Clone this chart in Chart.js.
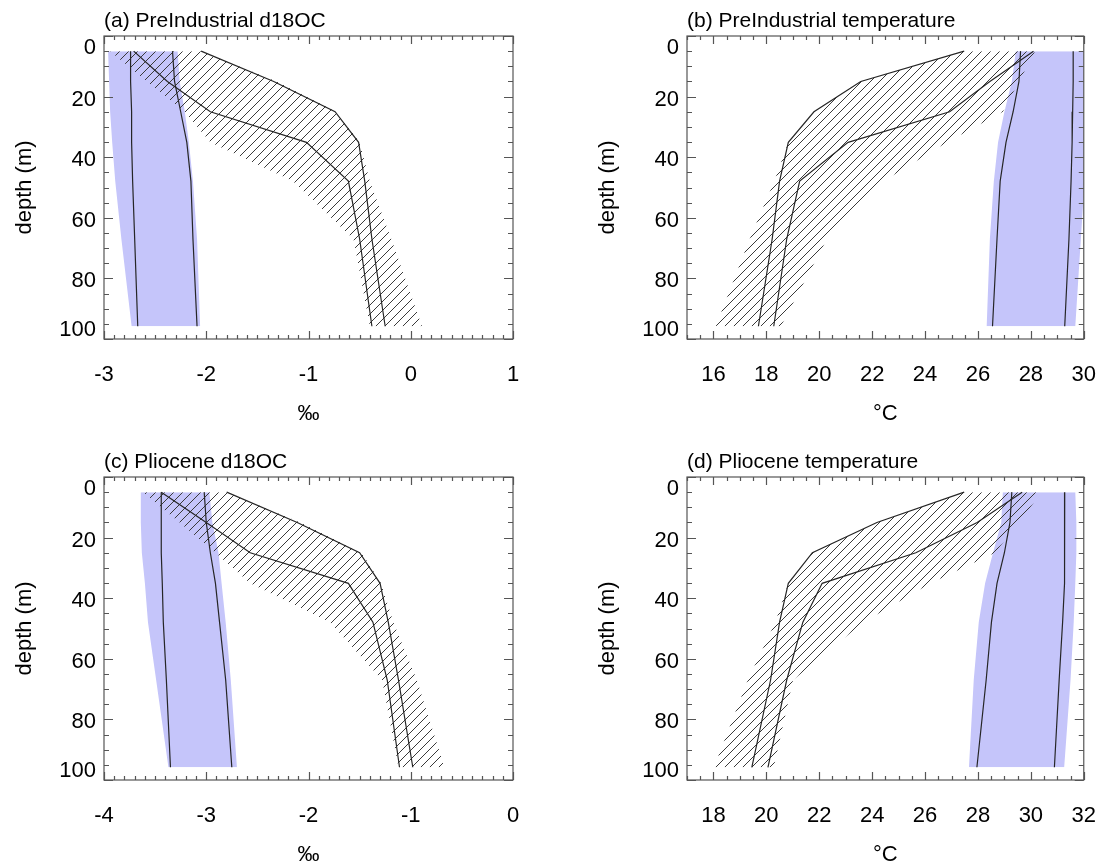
<!DOCTYPE html>
<html>
<head>
<meta charset="utf-8">
<script src="https://cdn.jsdelivr.net/npm/chart.js@4.4.0/dist/chart.umd.min.js"></script>
<style>
  body { margin: 0; background: #fff; width: 1119px; height: 863px; position: relative; overflow: hidden; }
  canvas { position: absolute; }
</style>
</head>
<body>
<canvas id="pa" width="560" height="440" style="left:0;top:0"></canvas>
<canvas id="pb" width="536" height="440" style="left:583px;top:0"></canvas>
<canvas id="pc" width="560" height="440" style="left:0;top:441px"></canvas>
<canvas id="pd" width="536" height="440" style="left:583px;top:441px"></canvas>
<script>
const FONT = "'Liberation Sans', Arial, Helvetica, sans-serif";

// model depth levels (m)
const depths = [5, 15, 25, 35.1, 47.9, 67, 95.8];
const depthLabels = [0, 20, 40, 60, 80, 100];

// (a) PreIndustrial d18OC
const aTicks = [-3, -2, -1, 0, 1];
const aBlueLo = [-2.96, -2.95, -2.94, -2.92, -2.89, -2.83, -2.73];
const aBlueHi = [-2.28, -2.26, -2.21, -2.17, -2.13, -2.09, -2.06];
const aBlue1 = [-2.74, -2.74, -2.73, -2.73, -2.72, -2.70, -2.67];
const aBlue2 = [-2.33, -2.31, -2.25, -2.19, -2.15, -2.13, -2.09];
const aHatchLo = [-2.94, -2.58, -2.21, -1.96, -1.15, -0.56, -0.40];
const aHatchHi = [-2.05, -1.31, -0.73, -0.50, -0.40, -0.19, 0.11];
const aHatch1 = [-2.71, -2.38, -1.96, -1.02, -0.61, -0.50, -0.38];
const aHatch2 = [-2.05, -1.34, -0.74, -0.51, -0.45, -0.38, -0.25];

// (b) PreIndustrial temperature
const bTicks = [16, 18, 20, 22, 24, 26, 28, 30];
const bBlueLo = [27.43, 27.28, 27.00, 26.76, 26.60, 26.45, 26.33];
const bBlueHi = [30.17, 30.17, 30.15, 30.12, 30.03, 29.89, 29.68];
const bBlue1 = [27.61, 27.55, 27.33, 27.06, 26.84, 26.72, 26.55];
const bBlue2 = [29.60, 29.60, 29.58, 29.56, 29.52, 29.44, 29.28];
const bHatchLo = [25.48, 21.57, 19.80, 18.83, 18.30, 17.37, 16.09];
const bHatchHi = [28.16, 27.55, 26.94, 24.83, 22.42, 20.29, 18.55];
const bHatch1 = [25.48, 21.57, 19.80, 18.83, 18.50, 18.22, 17.70];
const bHatch2 = [28.10, 26.45, 24.93, 21.09, 19.26, 18.77, 18.28];

// (c) Pliocene d18OC
const cTicks = [-4, -3, -2, -1, 0];
const cBlueLo = [-3.64, -3.64, -3.63, -3.60, -3.57, -3.49, -3.37];
const cBlueHi = [-2.97, -2.94, -2.88, -2.85, -2.81, -2.76, -2.70];
const cBlue1 = [-3.44, -3.44, -3.44, -3.43, -3.42, -3.39, -3.35];
const cBlue2 = [-3.02, -3.00, -2.96, -2.91, -2.87, -2.81, -2.75];
const cHatchLo = [-3.62, -3.26, -2.91, -2.57, -1.79, -1.28, -1.12];
const cHatchHi = [-2.80, -2.08, -1.48, -1.29, -1.17, -0.94, -0.67];
const cHatch1 = [-3.44, -3.00, -2.57, -1.61, -1.37, -1.23, -1.11];
const cHatch2 = [-2.80, -2.11, -1.50, -1.30, -1.22, -1.12, -0.98];

// (d) Pliocene temperature
const dTicks = [18, 20, 22, 24, 26, 28, 30, 32];
const dBlueLo = [28.94, 28.88, 28.57, 28.27, 28.03, 27.84, 27.66];
const dBlueHi = [31.68, 31.72, 31.72, 31.68, 31.62, 31.50, 31.26];
const dBlue1 = [29.28, 29.21, 29.00, 28.72, 28.51, 28.31, 27.96];
const dBlue2 = [31.28, 31.28, 31.28, 31.26, 31.20, 31.07, 30.89];
const dHatchLo = [27.48, 24.18, 21.74, 20.83, 20.34, 19.30, 18.02];
const dHatchHi = [30.40, 29.55, 28.64, 26.21, 23.67, 21.01, 20.28];
const dHatch1 = [27.48, 24.18, 21.74, 20.83, 20.50, 20.16, 19.45];
const dHatch2 = [29.67, 27.97, 25.65, 22.11, 21.38, 20.77, 20.06];

const BLUE = '#c5c5fa';

function makeHatch() {
  const c = document.createElement('canvas');
  c.width = 9;
  c.height = 9;
  const g = c.getContext('2d');
  g.strokeStyle = '#3a3a3a';
  g.lineWidth = 1;
  g.beginPath();
  g.moveTo(-1, 10);
  g.lineTo(10, -1);
  g.stroke();
  return g.createPattern(c, 'repeat');
}
const HATCH = makeHatch();

function pts(vals) {
  return depths.map((d, i) => ({ x: vals[i], y: d }));
}

function band(lo, hi, color, order) {
  return [
    { data: pts(lo), fill: '+1', backgroundColor: color, borderColor: 'transparent', borderWidth: 0, pointRadius: 0, order: order },
    { data: pts(hi), fill: false, borderColor: 'transparent', borderWidth: 0, pointRadius: 0, order: order }
  ];
}

function profile(vals) {
  return { data: pts(vals), fill: false, borderColor: '#262626', borderWidth: 1.2, pointRadius: 0, order: 1 };
}

// box, inward ticks on all four sides, depth labels
const frame = {
  id: 'frame',
  afterDatasetsDraw(chart, args, o) {
    const { ctx, chartArea: a } = chart;
    const x = chart.scales.x;
    const y = chart.scales.y;
    ctx.save();
    ctx.strokeStyle = '#555';
    ctx.lineWidth = 1.2;
    ctx.strokeRect(a.left, a.top, a.right - a.left, a.bottom - a.top);
    ctx.beginPath();
    const nx = Math.round((x.max - x.min) / o.xMinor);
    for (let i = 0; i <= nx; i++) {
      const v = x.min + i * o.xMinor;
      const major = Math.abs(v / o.xMajor - Math.round(v / o.xMajor)) < 1e-6;
      const len = major ? 8 : 4;
      const px = Math.round(x.getPixelForValue(v)) + 0.5;
      ctx.moveTo(px, a.bottom);
      ctx.lineTo(px, a.bottom - len);
      ctx.moveTo(px, a.top);
      ctx.lineTo(px, a.top + len);
    }
    const ny = Math.round((y.max - y.min) / 5);
    for (let i = 0; i <= ny; i++) {
      const v = y.min + i * 5;
      const len = v % 20 === 0 ? 9 : 5;
      const py = Math.round(y.getPixelForValue(v)) + 0.5;
      ctx.moveTo(a.left, py);
      ctx.lineTo(a.left + len, py);
      ctx.moveTo(a.right, py);
      ctx.lineTo(a.right - len, py);
    }
    ctx.stroke();

    ctx.fillStyle = '#000';
    ctx.font = '22px ' + FONT;
    ctx.textAlign = 'right';
    ctx.textBaseline = 'middle';
    depthLabels.forEach(v => {
      let py = y.getPixelForValue(v) + 3;
      py = Math.min(Math.max(py, a.top + 12), a.bottom - 9);
      ctx.fillText(String(v), a.left - 8, py);
    });
    ctx.restore();
  }
};

function makePanel(id, p) {
  new Chart(document.getElementById(id), {
    type: 'line',
    data: {
      datasets: [
        ...band(p.blueLo, p.blueHi, BLUE, 3),
        ...band(p.hatchLo, p.hatchHi, HATCH, 2),
        profile(p.blue1),
        profile(p.blue2),
        profile(p.hatch1),
        profile(p.hatch2)
      ]
    },
    options: {
      responsive: false,
      animation: false,
      events: [],
      indexAxis: 'y',
      layout: { padding: { left: 0, right: p.padRight, top: 0, bottom: 0 } },
      plugins: {
        legend: { display: false },
        tooltip: { enabled: false },
        title: {
          display: true,
          text: p.title,
          align: 'start',
          fullSize: false,
          color: '#000',
          font: { family: FONT, size: 21, weight: 'normal' },
          padding: { top: 9, bottom: 1.8 }
        },
        frame: { xMinor: p.xMinor, xMajor: p.xMajor }
      },
      scales: {
        x: {
          type: 'linear',
          min: p.xMin,
          max: p.xMax,
          grid: { display: false, drawTicks: false },
          border: { display: false },
          afterBuildTicks: s => { s.ticks = p.ticks.map(v => ({ value: v })); },
          ticks: { color: '#000', font: { family: FONT, size: 22 }, padding: 23, maxRotation: 0 },
          title: { display: true, text: p.xTitle, color: '#000', font: { family: FONT, size: 22 }, padding: { top: 0, bottom: 13 } },
          afterFit: s => { s.height = 101; }
        },
        y: {
          type: 'linear',
          reverse: true,
          min: 0,
          max: 100,
          grid: { display: false, drawTicks: false },
          border: { display: false },
          ticks: { display: false },
          title: { display: true, text: 'depth (m)', color: '#000', font: { family: FONT, size: 22 }, padding: { top: 12, bottom: 0 } },
          afterFit: s => { s.width = 104; }
        }
      }
    },
    plugins: [frame]
  });
}

makePanel('pa', {
  title: '(a) PreIndustrial d18OC', xTitle: '\u2030', xMin: -3, xMax: 1, ticks: aTicks,
  xMinor: 0.1, xMajor: 1, padRight: 47,
  blueLo: aBlueLo, blueHi: aBlueHi, blue1: aBlue1, blue2: aBlue2,
  hatchLo: aHatchLo, hatchHi: aHatchHi, hatch1: aHatch1, hatch2: aHatch2
});
makePanel('pb', {
  title: '(b) PreIndustrial temperature', xTitle: '\u00b0C', xMin: 15, xMax: 30, ticks: bTicks,
  xMinor: 0.5, xMajor: 2, padRight: 22,
  blueLo: bBlueLo, blueHi: bBlueHi, blue1: bBlue1, blue2: bBlue2,
  hatchLo: bHatchLo, hatchHi: bHatchHi, hatch1: bHatch1, hatch2: bHatch2
});
makePanel('pc', {
  title: '(c) Pliocene d18OC', xTitle: '\u2030', xMin: -4, xMax: 0, ticks: cTicks,
  xMinor: 0.1, xMajor: 1, padRight: 47,
  blueLo: cBlueLo, blueHi: cBlueHi, blue1: cBlue1, blue2: cBlue2,
  hatchLo: cHatchLo, hatchHi: cHatchHi, hatch1: cHatch1, hatch2: cHatch2
});
makePanel('pd', {
  title: '(d) Pliocene temperature', xTitle: '\u00b0C', xMin: 17, xMax: 32, ticks: dTicks,
  xMinor: 0.5, xMajor: 2, padRight: 22,
  blueLo: dBlueLo, blueHi: dBlueHi, blue1: dBlue1, blue2: dBlue2,
  hatchLo: dHatchLo, hatchHi: dHatchHi, hatch1: dHatch1, hatch2: dHatch2
});
</script>
</body>
</html>
